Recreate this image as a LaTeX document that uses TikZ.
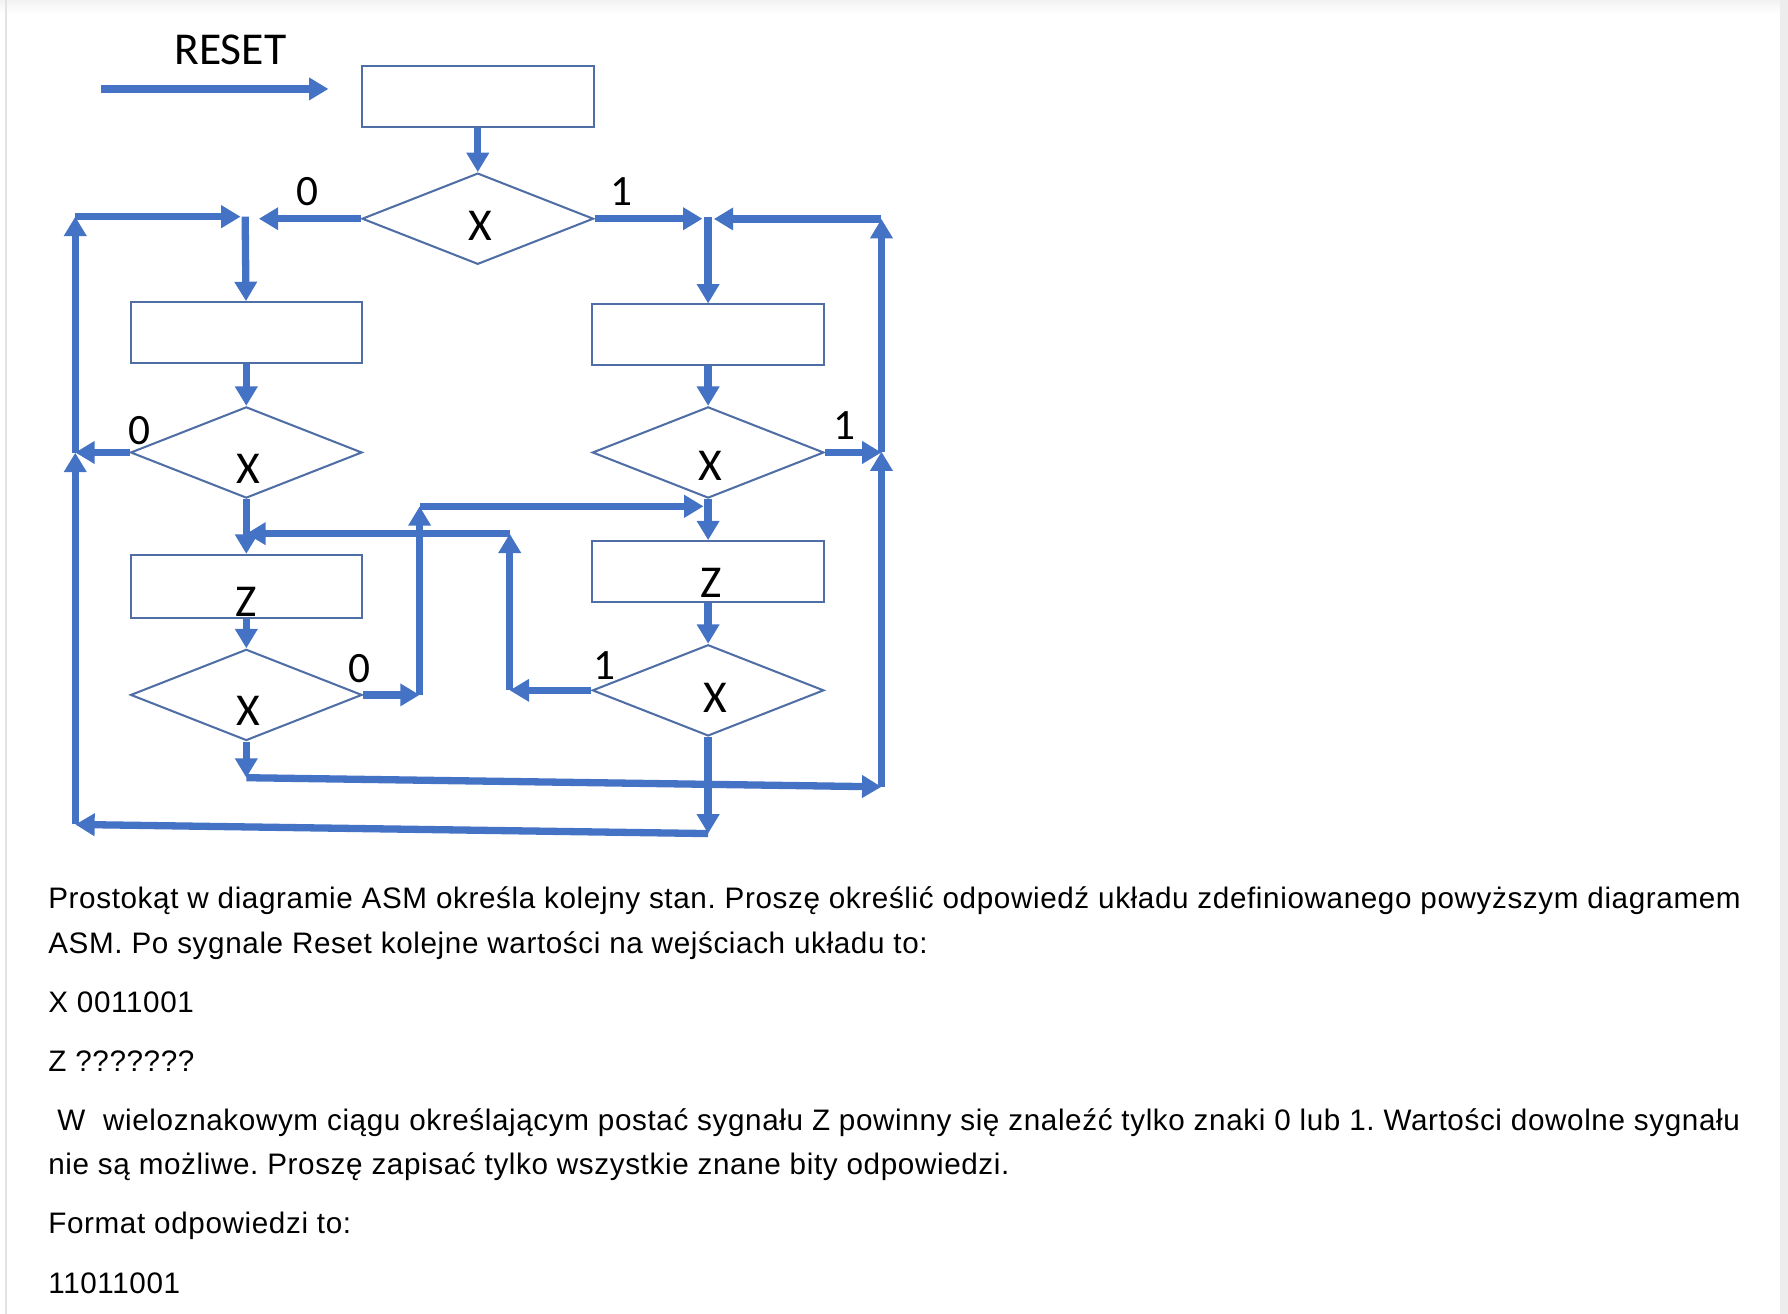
\documentclass[tikz,border=0pt]{standalone}
\usepackage{fontspec}
\setmainfont{Liberation Sans}[LetterSpace=2.1]
\newfontfamily\calib{Carlito}
\usetikzlibrary{positioning,arrows.meta,shapes.geometric}
\definecolor{asmblue}{RGB}{68,114,196}
\definecolor{asmedge}{RGB}{80,110,166}
\tikzstyle{sbox}=[rectangle, draw=asmedge, line width=0.9pt, minimum width=101.5pt, minimum height=26.5pt, inner sep=0pt]
\tikzstyle{dbox}=[diamond, draw=asmedge, line width=0.9pt, minimum width=101.5pt, minimum height=40pt, inner sep=0pt]
\tikzstyle{pline}=[-{Triangle[width=9.5pt,length=8.5pt]}, line width=3.2pt, draw=asmblue]
\tikzstyle{blab}=[inner sep=0pt, font=\calib\fontsize{20}{20}\selectfont]
\tikzstyle{nlab}=[inner sep=0pt, font=\calib\fontsize{19}{19}\selectfont]
\tikzstyle{qtext}=[anchor=base west, inner sep=0pt, font=\fontsize{13}{15}\selectfont]
\frenchspacing
\begin{document}
\begin{tikzpicture}[x=0.5pt,y=-0.5pt]
\useasboundingbox (0,0) rectangle (1568,1152);
\shade[top color=gray!10, bottom color=white] (0,0) rectangle (1561,12);
\fill[gray!14] (1561,0) rectangle (1568,1152);
\draw[gray!22, line width=1pt] (5,0) -- (5,1152);
% reset
\node (RST) [blab] at (202,44) {RESET};
\coordinate (RS) at (89,78);
\coordinate (RE) at (288,78);
\draw[pline] (RS) -- (RE);
\node (S0) [sbox] at (419,84.5) {};
\node (D1) [dbox,below=19.5pt of S0] {};
\node (D1x) [blab] at ([xshift=1pt,yshift=-3pt]D1.center) {X};
\draw[pline] (S0) -- (D1);
% left column
\node (R1L) [sbox] at (216,291.5) {};
\node (D2L) [dbox,below=18.5pt of R1L] {};
\node (D2Lx) [blab] at ([xshift=1pt,yshift=-7pt]D2L.center) {X};
\node (R2L) [sbox,below=24pt of D2L,minimum height=27.5pt] {};
\node (R2Lz) [blab] at ([yshift=-7pt]R2L.center) {Z};
\node (D3L) [dbox,below=13pt of R2L] {};
\node (D3Lx) [blab] at ([xshift=1pt,yshift=-7pt]D3L.center) {X};
% right column
\node (R1R) [sbox] at (621,293.5) {};
\node (D2R) [dbox,below=17.5pt of R1R] {};
\node (D2Rx) [blab] at ([xshift=1pt,yshift=-6pt]D2R.center) {X};
\node (R2R) [sbox,below=18pt of D2R] {};
\node (R2Rz) [blab] at ([xshift=1.5pt,yshift=-5pt]R2R.center) {Z};
\node (D3R) [dbox,below=18pt of R2R] {};
\node (D3Rx) [blab] at ([xshift=3pt,yshift=-3.5pt]D3R.center) {X};
% branch labels
\node (L0a) [nlab] at (270,168) {0};
\node (L1a) [nlab] at (545,168) {1};
\node (L0b) [nlab] at (122,378) {0};
\node (L1b) [nlab] at (741,373) {1};
\node (L0c) [nlab] at (315,586) {0};
\node (L1c) [nlab] at (530,584) {1};
% junctions
\coordinate (JL) at (215,190);
\coordinate (JR) at (621,190);
\coordinate (LT) at (66,190);
\coordinate (LM) at (66,397);
\coordinate (LB) at (66,723);
\coordinate (RT) at (773,192);
\coordinate (RM) at (773,396);
\coordinate (RB) at (773,690);
\coordinate (BL) at (216,682);
\coordinate (BR) at (621,731);
\coordinate (MLt) at (368,444);
\coordinate (MRt) at (447,468);
\coordinate (ML) at (D3L.east -| MLt);
\coordinate (MR) at (D3R.west -| MRt);
\draw[pline] (D1.west) -- ([xshift=6pt]JL |- D1.west);
\draw[pline] (D1.east) -- ([xshift=-2.5pt]JR |- D1.east);
\draw[pline] (LT) -- ([xshift=-2pt]JL);
\draw[pline] (RT) -- ([xshift=2.5pt]JR |- RT);
\draw[pline] (JL) -- (R1L);
\draw[pline] (JR) -- (R1R);
\draw[pline] (R1L) -- (D2L);
\draw[pline] (R1R) -- (D2R);
\draw[pline] (D2L.west) -- (LM |- D2L.west);
\draw[pline] (D2R.east) -- (RM |- D2R.east);
\draw[pline] (LB) -- (LM);
\draw[pline] (LM) -- (LT);
\draw[pline] (RB) -- (RM);
\draw[pline] (RM) -- (RT);
\draw[pline] (D2L) -- (R2L);
\draw[pline] (D2R) -- (R2R);
\draw[pline] (R2L) -- (D3L);
\draw[pline] (R2R) -- (D3R);
\draw[pline] (D3L.east) -- (ML);
\draw[pline] (ML) -- (MLt);
\draw[pline] (MLt) -- ([xshift=-2pt]D2R.south |- MLt);
\draw[pline] (D3R.west) -- (MR);
\draw[pline] (MR) -- (MRt);
\draw[pline] (MRt) -- (D2L.south |- MRt);
\draw[pline] (D3L) -- (BL);
\draw[pline] (BL) -- (RB);
\draw[pline] (D3R) -- (BR);
\draw[pline] (BR) -- (LB);
% question text
\node (T1) [qtext] at (42,797) {Prostokąt w diagramie ASM określa kolejny stan. Proszę określić odpowiedź układu zdefiniowanego powyższym diagramem};
\node (T2) [qtext] at (42,836) {ASM. Po sygnale Reset kolejne wartości na wejściach układu to:};
\node (T3) [qtext] at (42,888) {X 0011001};
\node (T4) [qtext] at (42,939.5) {Z ???????};
\node (T5) [qtext] at (50,991) {W\ \ wieloznakowym ciągu określającym postać sygnału Z powinny się znaleźć tylko znaki 0 lub 1. Wartości dowolne sygnału};
\node (T6) [qtext] at (42,1030) {nie są możliwe. Proszę zapisać tylko wszystkie znane bity odpowiedzi.};
\node (T7) [qtext] at (42,1082) {Format odpowiedzi to:};
\node (T8) [qtext] at (42,1134) {11011001};
\end{tikzpicture}
\end{document}
